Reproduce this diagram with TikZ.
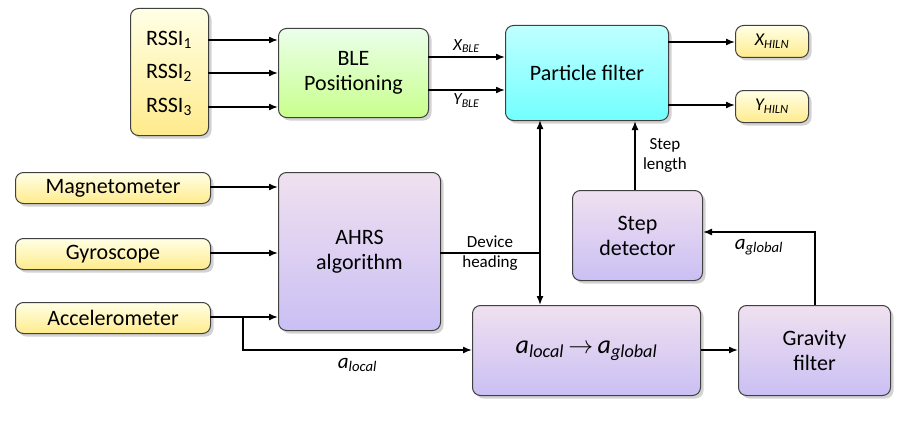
\documentclass[tikz,border=0pt]{standalone}
\usepackage{fontspec}
\setmainfont{Carlito}
\usetikzlibrary{shadows,arrows.meta}
\begin{document}
\begin{tikzpicture}[x=1pt,y=-1pt,
  bx/.style={draw=black!75,line width=1pt,rounded corners=8pt,drop shadow={shadow xshift=3pt,shadow yshift=-3pt,opacity=0.35},align=center,font=\fontsize{22}{25}\selectfont},
  yel/.style={bx,top color=yellow!10,bottom color=orange!35!yellow!45},
  grn/.style={bx,top color=green!8,bottom color=green!30!lime!45},
  pur/.style={bx,top color=violet!12,bottom color=violet!35!blue!25},
  cyn/.style={bx,top color=cyan!25,bottom color=cyan!55},
  ar/.style={-{Latex[length=9pt,width=7pt]},line width=1.5pt},
  lb/.style={font=\fontsize{17}{20}\selectfont}]
\useasboundingbox (0,0) rectangle (905,436);
\node[yel,minimum width=78,minimum height=127,anchor=north west] (rssi) at (130,8) {};
\node[grn,minimum width=150,minimum height=89,anchor=north west] (ble) at (278,28) {BLE\\Positioning};
\node[cyn,minimum width=163,minimum height=95,anchor=north west] (pf) at (505,25) {Particle filter};
\node[yel,minimum width=73,minimum height=32,anchor=north west,font=\fontsize{18}{20}\selectfont\itshape] (xh) at (735,25) {X\textsubscript{HILN}};
\node[yel,minimum width=73,minimum height=32,anchor=north west,font=\fontsize{18}{20}\selectfont\itshape] (yh) at (735,90) {Y\textsubscript{HILN}};
\node[yel,minimum width=195,minimum height=31,anchor=north west] (mag) at (15,172) {Magnetometer};
\node[yel,minimum width=195,minimum height=31,anchor=north west] (gyr) at (15,238) {Gyroscope};
\node[yel,minimum width=195,minimum height=31,anchor=north west] (acc) at (15,302) {Accelerometer};
\node[pur,minimum width=162,minimum height=158,anchor=north west] (ahrs) at (278,172) {AHRS\\algorithm};
\node[pur,minimum width=130,minimum height=90,anchor=north west] (step) at (572,190) {Step\\detector};
\node[pur,minimum width=228,minimum height=90,anchor=north west,font=\fontsize{26}{28}\selectfont\itshape] (conv) at (472,305) {a\textsubscript{local}\,$\rightarrow$\,a\textsubscript{global}};
\node[pur,minimum width=152,minimum height=90,anchor=north west] (grav) at (738,305) {Gravity\\filter};
\foreach \i/\y in {1/40,2/73,3/107}{
  \node[font=\fontsize{22}{25}\selectfont] (r\i) at (169,\y) {RSSI\textsubscript{\i}};
  \coordinate (s\i) at (208,\y);
  \draw[ar] (s\i) -- (s\i -| ble.west);}
\coordinate (b1) at (428,57); \coordinate (b2) at (428,90);
\draw[ar] (b1) -- (b1 -| pf.west) node[midway,above,font=\itshape\fontsize{17}{19}\selectfont]{X\textsubscript{BLE}};
\draw[ar] (b2) -- (b2 -| pf.west) node[midway,below,font=\itshape\fontsize{17}{19}\selectfont]{Y\textsubscript{BLE}};
\coordinate (p1) at (668,42); \coordinate (p2) at (668,105);
\draw[ar] (p1) -- (p1 -| xh.west);
\draw[ar] (p2) -- (p2 -| yh.west);
\coordinate (m1) at (210,187); \draw[ar] (m1) -- (m1 -| ahrs.west);
\coordinate (g1) at (210,253); \draw[ar] (g1) -- (g1 -| ahrs.west);
\coordinate (a1) at (210,317); \draw[ar] (a1) -- (a1 -| ahrs.west);
\coordinate (v1) at (540,120); \coordinate (v2) at (540,305);
\draw[{Latex[length=9pt,width=7pt]}-{Latex[length=9pt,width=7pt]},line width=1.5pt] (v1) -- (v2);
\coordinate (h1) at (440,253);
\draw[line width=1.5pt] (h1) -- (540,253) node[pos=0.5,align=center,lb]{Device\\heading};
\coordinate (k) at (243,317);
\draw[ar] (k) |- (conv.west |- 0,350) node[pos=0.75,below=4pt,font=\itshape\fontsize{21}{24}\selectfont]{a\textsubscript{local}};
\draw[ar] (conv.east |- 0,350) -- (grav.west |- 0,350);
\draw[ar] (grav.north -| 815,0) |- (step.east |- 0,232) node[pos=0.75,below=3pt,font=\itshape\fontsize{21}{24}\selectfont]{a\textsubscript{global}};
\draw[ar] (step.north -| 635,0) -- (pf.south -| 635,0) node[pos=0.5,right=4pt,align=center,lb]{Step\\length};
\end{tikzpicture}
\end{document}
